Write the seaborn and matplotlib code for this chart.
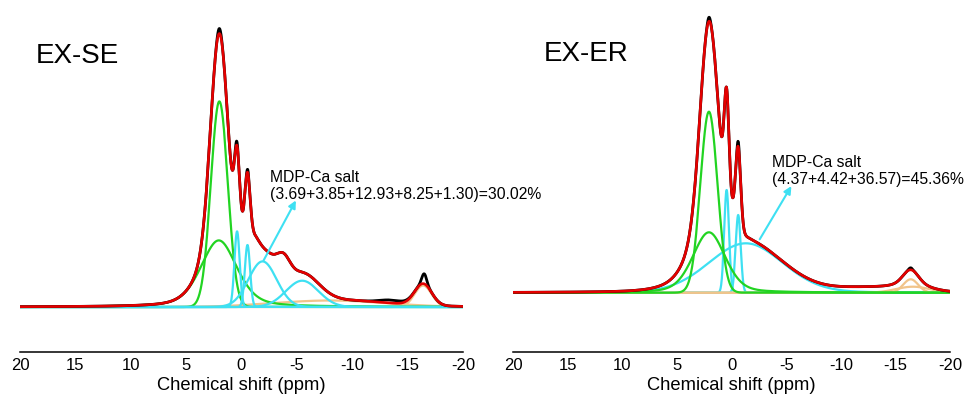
import numpy as np
import matplotlib
matplotlib.use('Agg')
import matplotlib.pyplot as plt
from matplotlib.ticker import MultipleLocator
import seaborn as sns

# ---- EX-SE fitted components: centre (ppm), height (a.u.), half width (ppm), lorentzian fraction
se_green_center = [2.0, 2.05]
se_green_height = [205.6, 66.6]
se_green_hwhm = [0.90, 1.93]
se_green_eta = [0.0, 0.4]

se_cyan_center = [0.40, -0.54, -1.9, -5.48]
se_cyan_height = [75.6, 62.0, 45.6, 26.3]
se_cyan_hwhm = [0.28, 0.28, 1.5, 1.73]
se_cyan_eta = [0.0, 0.0, 0.0, 0.0]

se_orange_center = [-8.0, -16.4]
se_orange_height = [6.5, 21.5]
se_orange_hwhm = [5.9, 0.9]
se_orange_eta = [0.0, 0.0]

# part of the cumulative fit that is not drawn as a separate curve
se_hidden_center = [-0.1, -1.05, -3.8]
se_hidden_height = [22.0, 16.0, 18.0]
se_hidden_hwhm = [0.55, 0.55, 0.7]

# experimental spectrum minus fit
se_exp_center = [2.0, 0.45, -0.57, -13.5, -16.5]
se_exp_height = [5.0, 4.0, 3.0, 3.0, 10.0]
se_exp_hwhm = [0.2, 0.12, 0.12, 1.2, 0.25]

# ---- EX-ER
er_green_center = [2.08, 2.08]
er_green_height = [181.0, 60.4]
er_green_hwhm = [0.92, 1.75]
er_green_eta = [0.0, 0.3]

er_cyan_center = [0.46, -0.6, -1.3]
er_cyan_height = [102.7, 77.7, 49.4]
er_cyan_hwhm = [0.26, 0.27, 4.0]
er_cyan_eta = [0.0, 0.0, 0.1]

er_orange_center = [-16.4, -16.6]
er_orange_height = [13.4, 6.0]
er_orange_hwhm = [0.8, 1.8]
er_orange_eta = [0.0, 0.0]

er_hidden_center = [-0.1, -13.0]
er_hidden_height = [12.0, 5.0]
er_hidden_hwhm = [0.5, 4.0]

er_exp_center = [2.08, -0.6, -16.4]
er_exp_height = [4.0, 5.0, 2.0]
er_exp_hwhm = [0.15, 0.1, 0.2]

ticks = [20, 15, 10, 5, 0, -5, -10, -15, -20]
tick_labels = ['20', '15', '10', '5', '0', '-5', '-10', '-15', '-20']

RED = '#e30000'
GREEN = '#22d422'
CYAN = '#3ee0f2'
ORANGE = '#f1c48a'

ppm = np.linspace(-20, 20, 4001)


def pv(x, c, h, w, eta):
    # pseudo-Voigt line shape
    r = ((x - c) / w) ** 2
    return h * (eta / (1 + r) + (1 - eta) * np.exp(-np.log(2) * r))


def curves(center, height, hwhm, eta=None):
    if eta is None:
        eta = [0.0] * len(center)
    return [pv(ppm, c, h, w, e) for c, h, w, e in zip(center, height, hwhm, eta)]


def draw_panel(ax, comps, hidden, exp_extra, order, title, note, arrow_tail, arrow_head,
               title_xy, note_xy, ylim):
    # comps: dict colour -> list of curves
    fit = sum(sum(c) for c in comps.values()) + sum(hidden)
    exp = fit + sum(exp_extra)

    for col in order:
        for y in comps[col]:
            sns.lineplot(x=ppm, y=y, ax=ax, color=col, lw=1.6, legend=False)
    sns.lineplot(x=ppm, y=exp, ax=ax, color='black', lw=2.0, legend=False)
    sns.lineplot(x=ppm, y=fit, ax=ax, color=RED, lw=1.9, legend=False)

    ax.annotate('', xy=arrow_head, xytext=arrow_tail,
                arrowprops=dict(arrowstyle='-|>', color=CYAN, lw=1.5, mutation_scale=11))
    ax.text(note_xy[0], note_xy[1], note, fontsize=11.3, ha='left', va='center',
            linespacing=1.2)
    ax.text(title_xy[0], title_xy[1], title, fontsize=20, ha='left', va='center')

    ax.set_xlim(20, -20)
    ax.set_ylim(*ylim)
    ax.set_xticks(ticks)
    ax.set_xticklabels(tick_labels)
    ax.xaxis.set_minor_locator(MultipleLocator(2.5))
    ax.tick_params(axis='x', which='major', direction='in', length=4.5, width=1.0,
                   labelsize=12, pad=4)
    ax.tick_params(axis='x', which='minor', direction='in', length=2.5, width=1.0)
    ax.set_yticks([])
    ax.set_ylabel('')
    ax.set_xlabel('Chemical shift (ppm)', fontsize=13.2, labelpad=3.5)
    for s in ['left', 'right', 'top']:
        ax.spines[s].set_visible(False)
    ax.spines['bottom'].set_linewidth(1.1)
    ax.spines['bottom'].set_color('black')
    ax.patch.set_alpha(0)


sns.set_style('white')
plt.rcParams['font.family'] = ['Liberation Sans', 'DejaVu Sans']
plt.rcParams['text.color'] = 'black'
plt.rcParams['axes.labelcolor'] = 'black'
plt.rcParams['xtick.color'] = 'black'

fig = plt.figure(figsize=(9.7, 4.07), dpi=100)
ax1 = fig.add_axes([20 / 970, 55 / 407, 443 / 970, 347 / 407])
ax2 = fig.add_axes([513.3 / 970, 55 / 407, 436.7 / 970, 347 / 407])

se_comps = {
    ORANGE: curves(se_orange_center, se_orange_height, se_orange_hwhm, se_orange_eta),
    GREEN: curves(se_green_center, se_green_height, se_green_hwhm, se_green_eta),
    CYAN: curves(se_cyan_center, se_cyan_height, se_cyan_hwhm, se_cyan_eta),
}
draw_panel(ax1, se_comps,
           curves(se_hidden_center, se_hidden_height, se_hidden_hwhm),
           curves(se_exp_center, se_exp_height, se_exp_hwhm),
           [ORANGE, GREEN, CYAN], 'EX-SE',
           'MDP-Ca salt\n(3.69+3.85+12.93+8.25+1.30)=30.02%',
           (-1.87, 44), (-5.03, 109), (18.6, 251), (-2.55, 121), (-45, 302))

er_comps = {
    CYAN: curves(er_cyan_center, er_cyan_height, er_cyan_hwhm, er_cyan_eta),
    ORANGE: curves(er_orange_center, er_orange_height, er_orange_hwhm, er_orange_eta),
    GREEN: curves(er_green_center, er_green_height, er_green_hwhm, er_green_eta),
}
draw_panel(ax2, er_comps,
           curves(er_hidden_center, er_hidden_height, er_hidden_hwhm),
           curves(er_exp_center, er_exp_height, er_exp_hwhm),
           [CYAN, ORANGE, GREEN], 'EX-ER',
           'MDP-Ca salt\n(4.37+4.42+36.57)=45.36%',
           (-2.44, 51), (-5.6, 109), (17.25, 238.5), (-3.66, 122), (-59.3, 287.7))

fig.savefig('out.png', dpi=100)
